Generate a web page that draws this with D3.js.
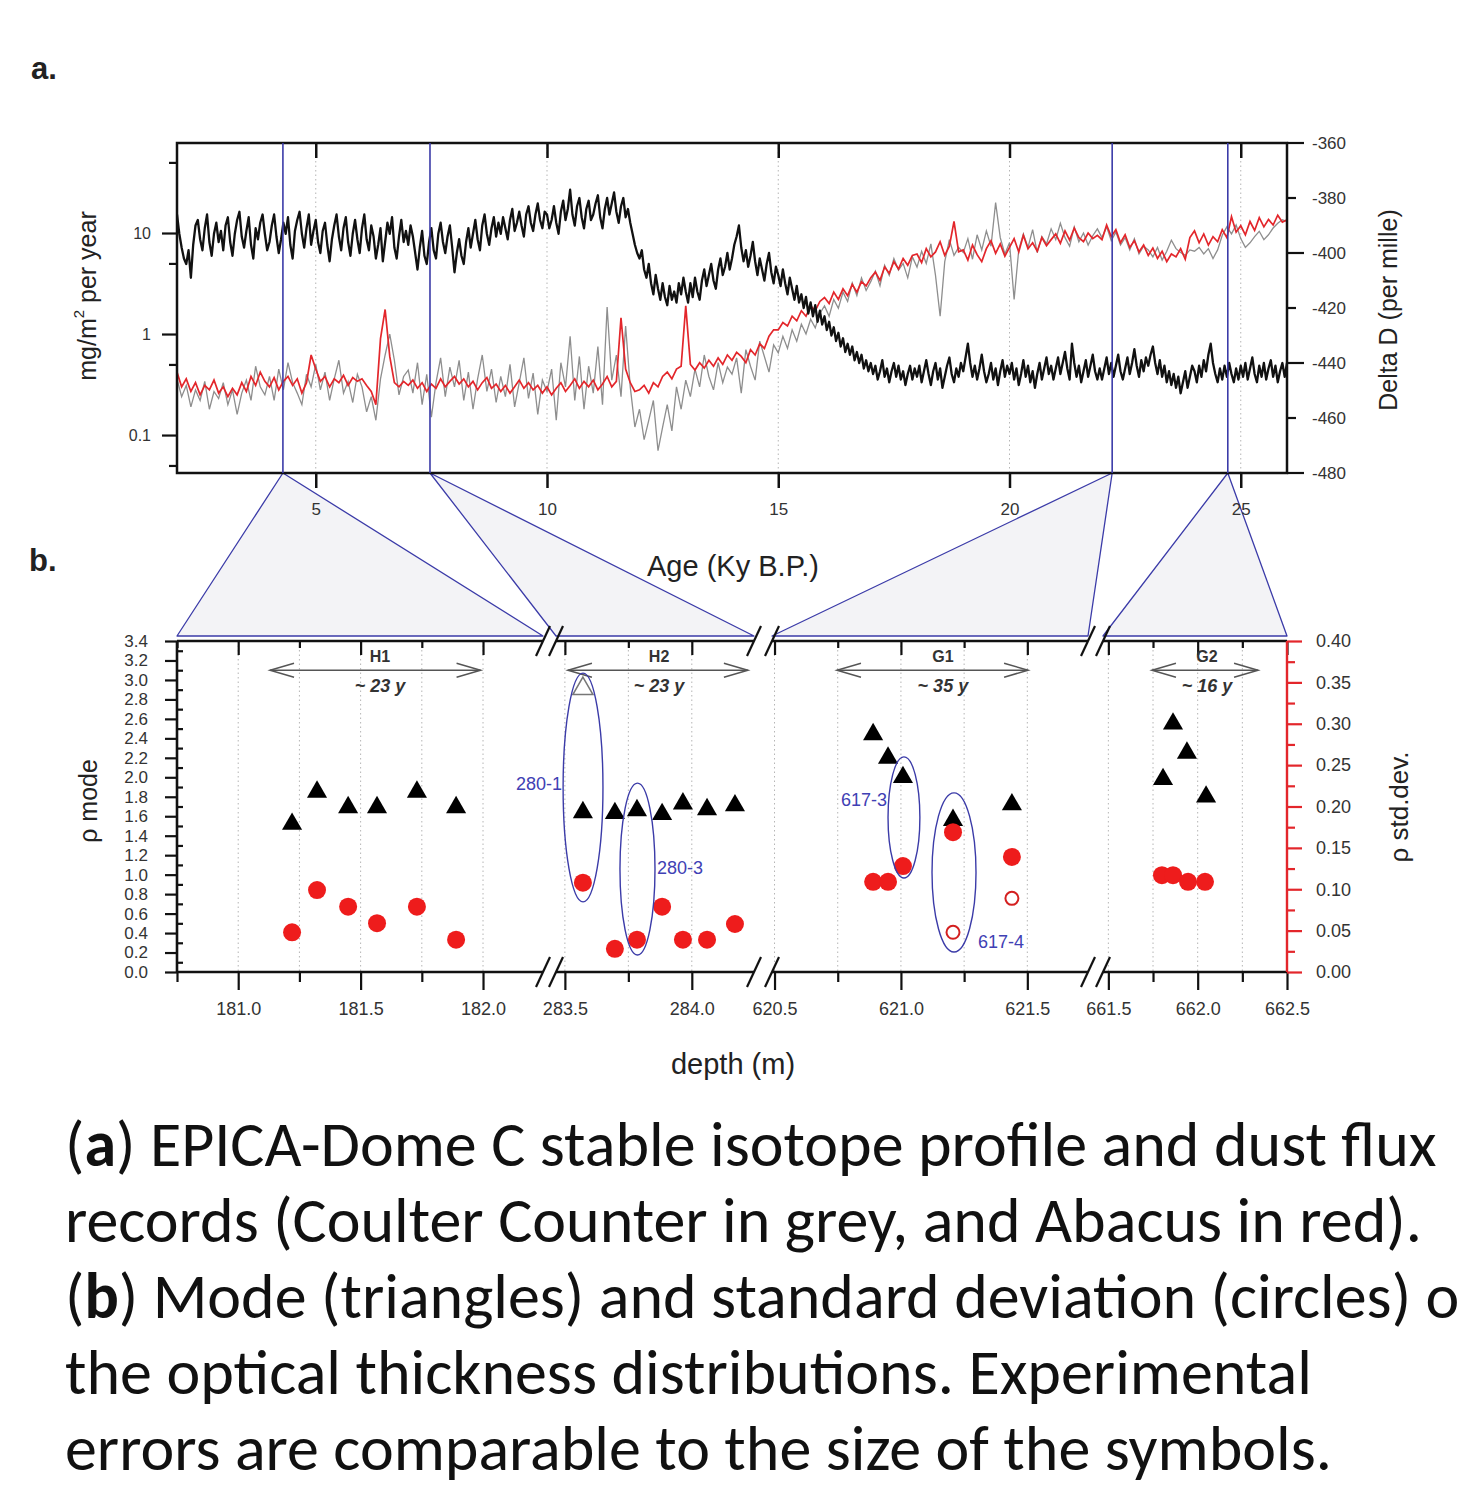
<!DOCTYPE html>
<html>
<head>
<meta charset="utf-8">
<title>EPICA Dome C dust and optical thickness</title>
<script src="https://d3js.org/d3.v7.min.js"></script>
<style>
  body { margin: 0; background: #fff; }
  svg text { font-family: "Liberation Sans", Arial, sans-serif; }
  .tick text { fill: #333; }
  .caption { font-family: Carlito, Lato, "Open Sans", sans-serif; fill: #111; }
</style>
</head>
<body>
<svg id="fig" width="1457" height="1485"></svg>
<script>
// ---------- panel a data
// Delta D (per mille), black curve, right axis: read every 0.05 ky from 2.0 to 26.0 ky B.P.
const deltaStart = 2.0, deltaStep = 0.05;
const deltaD = [
  -386,-393,-398,-402,-404,-399,-409,-397,-390,-388,-395,-399,-391,-386,-396,-401,-393,-389,-396,-392,
  -399,-390,-387,-396,-401,-393,-388,-385,-394,-398,-392,-387,-397,-402,-391,-395,-389,-386,-393,-399,
  -396,-390,-386,-394,-400,-395,-389,-393,-387,-397,-402,-392,-388,-385,-393,-398,-391,-386,-397,-392,
  -388,-396,-400,-392,-389,-397,-403,-395,-390,-386,-394,-399,-391,-387,-396,-401,-393,-388,-395,-400,
  -391,-386,-395,-399,-390,-394,-402,-397,-391,-403,-396,-389,-393,-387,-398,-402,-394,-388,-396,-392,
  -397,-390,-394,-400,-406,-398,-392,-401,-404,-396,-391,-399,-402,-393,-389,-396,-400,-394,-390,-398,
  -407,-400,-395,-401,-404,-396,-391,-398,-393,-388,-395,-399,-390,-386,-393,-397,-391,-387,-394,-389,
  -393,-387,-391,-395,-388,-384,-392,-389,-385,-390,-394,-386,-383,-389,-392,-386,-382,-388,-391,-385,
  -386,-391,-388,-383,-389,-393,-385,-381,-388,-384,-377,-386,-390,-383,-380,-387,-391,-384,-381,-388,
  -386,-382,-379,-387,-391,-384,-380,-386,-382,-378,-385,-389,-383,-380,-387,-384,-389,-393,-397,-400,
  -402,-399,-406,-409,-404,-411,-415,-408,-413,-417,-411,-416,-419,-412,-417,-414,-418,-411,-415,-409,
  -414,-418,-411,-416,-409,-414,-417,-410,-406,-412,-408,-404,-410,-413,-406,-402,-408,-405,-400,-406,
  -402,-397,-394,-390,-398,-403,-399,-405,-401,-396,-403,-408,-402,-406,-410,-404,-400,-407,-411,-405,
  -408,-412,-406,-411,-415,-409,-413,-417,-412,-418,-415,-420,-416,-422,-418,-423,-419,-425,-421,-426,
  -423,-428,-425,-430,-427,-432,-429,-434,-431,-436,-433,-437,-434,-439,-436,-440,-437,-442,-439,-443,
  -440,-444,-441,-446,-443,-439,-445,-442,-447,-443,-440,-445,-441,-446,-443,-448,-444,-441,-446,-442,
  -445,-441,-447,-443,-439,-444,-448,-443,-440,-446,-442,-449,-445,-441,-438,-444,-447,-442,-445,-440,
  -443,-438,-433,-440,-445,-441,-446,-442,-437,-443,-447,-444,-440,-446,-442,-448,-443,-439,-445,-441,
  -444,-440,-446,-442,-448,-444,-439,-445,-441,-447,-443,-449,-444,-440,-446,-442,-438,-444,-441,-446,
  -442,-438,-444,-440,-436,-442,-446,-433,-440,-445,-441,-447,-443,-439,-445,-441,-437,-443,-446,-442,
  -446,-442,-438,-444,-440,-445,-441,-437,-443,-446,-442,-438,-444,-440,-435,-441,-445,-439,-443,-438,
  -441,-437,-434,-440,-444,-439,-445,-441,-447,-443,-448,-444,-449,-445,-451,-447,-443,-449,-445,-441,
  -443,-447,-441,-445,-439,-443,-437,-433,-440,-444,-447,-442,-446,-441,-445,-440,-444,-447,-442,-446,
  -441,-445,-440,-446,-442,-438,-444,-447,-441,-445,-440,-446,-442,-439,-445,-441,-447,-443,-440,-445,
  -440
];

// dust flux (mg/m2 per year): read every 0.1 ky from 2.0 to 26.0 ky B.P.
const fluxStart = 2.0, fluxStep = 0.1;
// Abacus (red)
const abacusFlux = [
  0.42, 0.30, 0.36, 0.27, 0.33, 0.25, 0.31, 0.28, 0.35, 0.26,
  0.30, 0.24, 0.29, 0.25, 0.33, 0.27, 0.38, 0.31, 0.42, 0.34,
  0.30, 0.37, 0.28, 0.34, 0.38, 0.31, 0.36, 0.26, 0.33, 0.62,
  0.45, 0.34, 0.38, 0.30, 0.36, 0.33, 0.39, 0.31, 0.37, 0.34,
  0.36, 0.31, 0.27, 0.20, 0.90, 1.75, 0.60, 0.33, 0.30, 0.34,
  0.31, 0.35, 0.29, 0.33, 0.27, 0.32, 0.29, 0.36, 0.30, 0.34,
  0.38, 0.32, 0.36, 0.30, 0.34, 0.28, 0.33, 0.37, 0.29, 0.32,
  0.27, 0.31, 0.26, 0.30, 0.35, 0.29, 0.33, 0.28, 0.31, 0.26,
  0.30, 0.25, 0.29, 0.33, 0.27, 0.31, 0.36, 0.29, 0.34, 0.30,
  0.35, 0.28, 0.32, 0.38, 0.30, 0.34, 1.45, 0.45, 0.33, 0.27,
  0.28, 0.31, 0.26, 0.33, 0.30, 0.38, 0.42, 0.36, 0.45, 0.48,
  1.90, 0.50, 0.44, 0.52, 0.46, 0.55, 0.48, 0.58, 0.50, 0.62,
  0.55, 0.66, 0.60, 0.52, 0.70, 0.62, 0.80, 0.72, 0.95, 1.10,
  1.10, 1.30, 1.20, 1.50, 1.35, 1.70, 1.50, 1.90, 1.70, 2.10,
  2.3, 2.0, 2.6, 2.2, 2.8, 2.4, 3.1, 2.6, 3.3, 3.0,
  3.6, 4.1, 3.4, 4.6, 4.0, 5.2, 4.4, 5.6, 4.8, 6.0,
  6.2, 5.1, 7.0, 5.8, 6.5, 8.2, 6.0, 7.4, 13.0, 6.5,
  6.8, 5.4, 7.6, 6.1, 5.2, 7.0, 8.4, 6.3, 7.8, 5.9,
  7.2, 8.8, 6.5, 9.5, 7.0, 8.0, 6.6, 9.0, 7.5, 8.6,
  9.8, 7.9, 10.5, 8.5, 11.2, 9.0, 8.2, 10.0, 8.8, 9.5,
  8.6, 12.0, 9.2, 10.8, 8.0, 9.6, 7.2, 8.4, 6.5, 7.6,
  6.0, 7.1, 5.6, 6.6, 5.2, 6.2, 5.8, 7.0, 5.5, 9.0,
  10.5, 8.0, 9.8, 7.6, 9.2, 8.2, 10.8, 9.0, 14.5, 10.2,
  11.8, 9.6, 13.0, 10.6, 14.2, 11.5, 13.6, 12.0, 15.0, 12.8,
  13.5
];
// Coulter Counter (grey)
const coulterFlux = [
  0.36, 0.24, 0.31, 0.19, 0.28, 0.22, 0.34, 0.18, 0.27, 0.23,
  0.33, 0.20, 0.28, 0.16, 0.26, 0.35, 0.22, 0.48, 0.30, 0.25,
  0.38, 0.22, 0.45, 0.28, 0.52, 0.33, 0.26, 0.20, 0.40, 0.30,
  0.50, 0.28, 0.42, 0.22, 0.36, 0.55, 0.26, 0.34, 0.21, 0.40,
  0.30, 0.17, 0.24, 0.14, 0.36, 0.62, 1.00, 0.55, 0.25, 0.38,
  0.44, 0.26, 0.52, 0.20, 0.40, 0.15, 0.33, 0.58, 0.24, 0.47,
  0.30, 0.55, 0.22, 0.42, 0.18, 0.36, 0.62, 0.27, 0.45, 0.21,
  0.38, 0.24, 0.50, 0.19, 0.33, 0.58, 0.23, 0.41, 0.16, 0.35,
  0.27, 0.45, 0.14, 0.52, 0.30, 0.95, 0.22, 0.60, 0.18, 0.48,
  0.26, 0.75, 0.20, 1.85, 0.35, 0.62, 0.24, 1.20, 0.30, 0.12,
  0.18, 0.09, 0.14, 0.22, 0.07, 0.12, 0.20, 0.11, 0.30, 0.18,
  0.35, 0.24, 0.45, 0.30, 0.62, 0.38, 0.28, 0.52, 0.33, 0.47,
  0.40, 0.58, 0.26, 0.70, 0.48, 0.35, 0.85, 0.60, 0.42, 0.78,
  0.65, 0.95, 0.72, 1.10, 0.85, 1.25, 1.00, 1.40, 1.15, 1.60,
  1.9, 1.5, 2.2, 1.8, 2.6, 2.1, 3.2, 2.4, 3.6, 2.7,
  3.3, 4.2, 3.0, 4.8, 3.8, 5.6, 4.3, 5.0, 3.6, 5.8,
  4.6, 6.6, 5.0, 7.8, 3.8, 1.5, 5.2, 8.6, 6.0, 7.2,
  6.4, 8.8, 5.5, 9.6, 6.8, 10.5, 7.4, 20.0, 9.0, 6.2,
  8.0, 2.2, 6.8, 9.8, 7.2, 10.8, 6.4, 9.2, 7.8, 11.0,
  8.6, 12.5, 9.0, 7.4, 11.5, 8.2, 10.0, 7.6, 9.4, 11.0,
  9.0, 11.5, 8.4, 10.2, 7.6, 9.0, 6.8, 8.8, 6.2, 7.4,
  6.8, 5.8, 7.2, 5.4, 6.6, 8.5, 7.0, 6.4, 6.0, 6.8,
  6.6, 7.2, 6.2, 7.0, 5.6, 6.8, 9.5, 11.5, 9.8, 12.0,
  8.8, 7.2, 8.0, 9.2, 10.4, 8.6, 9.6, 11.2, 12.5, 13.5,
  13.0
];

const zoomAges = [4.29, 7.47, 22.22, 24.72];   // blue markers, one per depth section
const ageTicks = [5, 10, 15, 20, 25];
const fluxTicks = [0.1, 1, 10];
const fluxMinorTicks = [0.05, 0.5, 5, 50];
const deltaTicks = [-360, -380, -400, -420, -440, -460, -480];
const deltaMajor = [-360, -400, -440, -480];

// ---------- panel b data (depth in m)
const segDomains = [[180.75, 182.245], [283.465, 284.245], [620.49, 621.74], [661.47, 662.5]];

const modeSeg   = [0, 0, 0, 0, 0, 0, 1, 1, 1, 1, 1, 1, 1, 2, 2, 2, 2, 2, 3, 3, 3, 3];
const modeDepth = [181.220, 181.322, 181.449, 181.567, 181.730, 181.890,
                   283.571, 283.697, 283.784, 283.883, 283.965, 284.060, 284.170,
                   620.890, 620.949, 621.008, 621.206, 621.439,
                   661.806, 661.862, 661.940, 662.047];
const modeValue = [1.52, 1.85, 1.69, 1.69, 1.85, 1.69,
                   1.64, 1.63, 1.66, 1.62, 1.73, 1.67, 1.71,
                   2.44, 2.20, 2.00, 1.56, 1.72,
                   1.98, 2.55, 2.25, 1.80];

const stdSeg   = [0, 0, 0, 0, 0, 0, 1, 1, 1, 1, 1, 1, 1, 2, 2, 2, 2, 2, 3, 3, 3, 3];
const stdDepth = [181.220, 181.322, 181.449, 181.567, 181.730, 181.890,
                  283.571, 283.697, 283.784, 283.883, 283.965, 284.060, 284.170,
                  620.890, 620.949, 621.008, 621.206, 621.439,
                  661.800, 661.862, 661.946, 662.041];
const stdValue = [0.048, 0.099, 0.079, 0.059, 0.079, 0.039,
                  0.108, 0.028, 0.039, 0.079, 0.039, 0.039, 0.058,
                  0.109, 0.109, 0.128, 0.169, 0.139,
                  0.117, 0.117, 0.109, 0.109];

// open symbols
const openModeSeg = [1], openModeDepth = [283.571], openModeValue = [2.91];
const openStdSeg = [2, 2], openStdDepth = [621.206, 621.439], openStdValue = [0.048, 0.089];

// sections: names, duration, arrow extent (depth) and label depth
const groupNames = ["H1", "H2", "G1", "G2"];
const groupYears = ["~ 23 y", "~ 23 y", "~ 35 y", "~ 16 y"];
const groupSpan  = [[181.13, 181.99], [283.512, 284.221], [620.747, 621.503], [661.744, 662.338]];
const groupMid   = [181.579, 283.871, 621.166, 662.052];

// samples circled in blue (depth and mode extents)
const sampleNames = ["280-1", "280-3", "617-3", "617-4"];
const sampleSeg   = [1, 1, 2, 2];
const sampleDepth = [[283.493, 283.650], [283.717, 283.855], [620.949, 621.075], [621.123, 621.297]];
const sampleMode  = [[0.72, 3.07], [0.175, 1.94], [0.966, 2.21], [0.205, 1.84]];
const sampleLabelMode = [1.93, 1.07, 1.77, 0.31];
const sampleLabelSide = ["left", "right", "left", "right"];

// ---------- layout
const svg = d3.select("#fig");
const A = { l: 177, r: 1287, t: 143, b: 473 };
const B = { l: 177, r: 1287, t: 641, b: 972 };
const segRanges = [[177, 543], [556, 754], [772, 1088], [1103, 1287]];
const baseY = 636;   // bottom of the zoom wedges
const blue = "#3b3ba8";
const textCol = "#222";

const wedgeLayer = svg.append("g");

// ================= panel a =================
const x = d3.scaleLinear().domain([2, 26]).range([A.l, A.r]);
const yFlux = d3.scaleLog().domain([0.0421, 77.8]).range([A.b, A.t]);
const yDD = d3.scaleLinear().domain([-480, -360]).range([A.b, A.t]);

svg.append("defs").append("clipPath").attr("id", "clipA")
  .append("rect").attr("x", A.l).attr("y", A.t).attr("width", A.r - A.l).attr("height", A.b - A.t);

// dotted grid
svg.append("g").selectAll("line").data(ageTicks).join("line")
  .attr("x1", d => x(d)).attr("x2", d => x(d)).attr("y1", A.t).attr("y2", A.b)
  .attr("stroke", "#b5b5b5").attr("stroke-width", 1).attr("stroke-dasharray", "1.5,3");

const plotA = svg.append("g").attr("clip-path", "url(#clipA)");
plotA.append("path").datum(coulterFlux)
  .attr("fill", "none").attr("stroke", "#8e8e8e").attr("stroke-width", 1.3)
  .attr("d", d3.line().x((d, i) => x(fluxStart + i * fluxStep)).y(d => yFlux(d)));
plotA.append("path").datum(abacusFlux)
  .attr("fill", "none").attr("stroke", "#e3262b").attr("stroke-width", 1.7)
  .attr("d", d3.line().x((d, i) => x(fluxStart + i * fluxStep)).y(d => yFlux(d)));
plotA.append("path").datum(deltaD)
  .attr("fill", "none").attr("stroke", "#111").attr("stroke-width", 2.3)
  .attr("stroke-linejoin", "round")
  .attr("d", d3.line().x((d, i) => x(deltaStart + i * deltaStep)).y(d => yDD(d)));

// frame
svg.append("rect").attr("x", A.l).attr("y", A.t).attr("width", A.r - A.l).attr("height", A.b - A.t)
  .attr("fill", "none").attr("stroke", "#111").attr("stroke-width", 2.5);

// axes panel a
function styleAxis(g, color, width) {
  g.select(".domain").remove();
  g.selectAll(".tick line").attr("stroke", color).attr("stroke-width", width);
}
svg.append("g").attr("transform", `translate(0,${A.b})`)
  .call(d3.axisBottom(x).tickValues(ageTicks).tickSize(15).tickPadding(15))
  .call(g => styleAxis(g, "#111", 2.5))
  .call(g => g.selectAll("text").attr("font-size", 17));
svg.append("g").attr("transform", `translate(0,${A.t})`)
  .call(d3.axisTop(x).tickValues(ageTicks).tickSize(-15).tickFormat(""))
  .call(g => styleAxis(g, "#111", 2.5));
svg.append("g").attr("transform", `translate(${A.l},0)`)
  .call(d3.axisLeft(yFlux).tickValues(fluxTicks).tickSize(15).tickPadding(11).tickFormat(d => String(d)))
  .call(g => styleAxis(g, "#111", 2.2))
  .call(g => g.selectAll("text").attr("font-size", 16));
svg.append("g").attr("transform", `translate(${A.l},0)`)
  .call(d3.axisLeft(yFlux).tickValues(fluxMinorTicks).tickSize(8).tickFormat(""))
  .call(g => styleAxis(g, "#111", 2.2));
svg.append("g").attr("transform", `translate(${A.r},0)`)
  .call(d3.axisRight(yDD).tickValues(deltaTicks).tickSize(0).tickPadding(25).tickFormat(d => String(d)))
  .call(g => styleAxis(g, "#111", 2.2))
  .call(g => g.selectAll("text").attr("font-size", 17));
svg.append("g").selectAll("line").data(deltaTicks).join("line")
  .attr("x1", A.r).attr("x2", d => A.r + (deltaMajor.includes(d) ? 17 : 9))
  .attr("y1", d => yDD(d)).attr("y2", d => yDD(d))
  .attr("stroke", "#111").attr("stroke-width", 2.2);

// axis titles panel a
const fluxTitle = svg.append("text").attr("transform", "translate(96,296) rotate(-90)")
  .attr("text-anchor", "middle").attr("font-size", 25).attr("fill", textCol);
fluxTitle.append("tspan").text("mg/m");
fluxTitle.append("tspan").attr("dy", -12).attr("font-size", 15).text("2");
fluxTitle.append("tspan").attr("dy", 12).text(" per year");
svg.append("text").attr("transform", "translate(1397,310) rotate(-90)")
  .attr("text-anchor", "middle").attr("font-size", 25).attr("fill", textCol)
  .text("Delta D (per mille)");
svg.append("text").attr("x", 733).attr("y", 576).attr("text-anchor", "middle")
  .attr("font-size", 29).attr("fill", textCol).text("Age (Ky B.P.)");

// ================= zoom wedges (drawn underneath) =================
const xs = segDomains.map((dom, i) => d3.scaleLinear().domain(dom).range(segRanges[i]));
wedgeLayer.selectAll("polygon").data(zoomAges).join("polygon")
  .attr("points", (d, i) => [[x(d), A.b], [segRanges[i][0], baseY], [segRanges[i][1], baseY]].join(" "))
  .attr("fill", "#f3f3f6").attr("stroke", blue).attr("stroke-width", 1.3).attr("stroke-linejoin", "round");
svg.append("g").selectAll("line").data(zoomAges).join("line")
  .attr("x1", d => x(d)).attr("x2", d => x(d)).attr("y1", A.t).attr("y2", A.b)
  .attr("stroke", blue).attr("stroke-width", 1.6);

// ================= panel b =================
const yMode = d3.scaleLinear().domain([0, 3.4]).range([B.b, B.t]);
const yStd = d3.scaleLinear().domain([0, 0.4]).range([B.b, B.t]);

xs.forEach((xsc, i) => {
  const [d0, d1] = xsc.domain();
  const ticks = d3.range(Math.ceil(d0 * 4 - 1e-6) / 4, d1 + 1e-6, 0.25);
  const major = ticks.filter(t => Math.abs(t * 2 - Math.round(t * 2)) < 1e-6);
  const minor = ticks.filter(t => !major.includes(t));
  // dotted grid
  svg.append("g").selectAll("line").data(ticks).join("line")
    .attr("x1", d => xsc(d)).attr("x2", d => xsc(d)).attr("y1", B.t).attr("y2", B.b)
    .attr("stroke", "#b5b5b5").attr("stroke-width", 1).attr("stroke-dasharray", "1.5,3");
  // bottom axis
  svg.append("g").attr("transform", `translate(0,${B.b})`)
    .call(d3.axisBottom(xsc).tickValues(major).tickSize(18).tickPadding(12).tickFormat(d3.format(".1f")))
    .call(g => styleAxis(g, "#111", 2.2))
    .call(g => g.selectAll("text").attr("font-size", 18));
  svg.append("g").attr("transform", `translate(0,${B.b})`)
    .call(d3.axisBottom(xsc).tickValues(minor).tickSize(10).tickFormat(""))
    .call(g => styleAxis(g, "#111", 2.2));
  // top axis (inner ticks)
  svg.append("g").attr("transform", `translate(0,${B.t})`)
    .call(d3.axisTop(xsc).tickValues(major).tickSize(-14).tickFormat(""))
    .call(g => styleAxis(g, "#111", 2.2));
  svg.append("g").attr("transform", `translate(0,${B.t})`)
    .call(d3.axisTop(xsc).tickValues(minor).tickSize(-7).tickFormat(""))
    .call(g => styleAxis(g, "#111", 2.2));
  // axis lines of the section
  [B.t, B.b].forEach(yy => {
    svg.append("line").attr("x1", segRanges[i][0]).attr("x2", segRanges[i][1])
      .attr("y1", yy).attr("y2", yy).attr("stroke", "#111").attr("stroke-width", 2.6);
  });
});

// break marks
const breakXs = [];
for (let i = 0; i < segRanges.length - 1; i++) breakXs.push(segRanges[i][1], segRanges[i + 1][0]);
[B.t, B.b].forEach(yy => {
  svg.append("g").selectAll("line").data(breakXs).join("line")
    .attr("x1", d => d - 7).attr("y1", yy + 15).attr("x2", d => d + 7).attr("y2", yy - 15)
    .attr("stroke", "#111").attr("stroke-width", 2.2);
});

// left axis (rho mode)
svg.append("line").attr("x1", B.l).attr("x2", B.l).attr("y1", B.t).attr("y2", B.b)
  .attr("stroke", "#111").attr("stroke-width", 2.6);
svg.append("g").attr("transform", `translate(${B.l},0)`)
  .call(d3.axisLeft(yMode).tickValues(d3.range(0, 3.41, 0.2)).tickSize(12).tickPadding(17).tickFormat(d3.format(".1f")))
  .call(g => styleAxis(g, "#111", 2.2))
  .call(g => g.selectAll("text").attr("font-size", 17));
svg.append("g").attr("transform", `translate(${B.l},0)`)
  .call(d3.axisLeft(yMode).tickValues(d3.range(0.1, 3.4, 0.2)).tickSize(-6).tickFormat(""))
  .call(g => styleAxis(g, "#111", 2.2));

// right axis (rho std.dev.) in red
svg.append("line").attr("x1", B.r).attr("x2", B.r).attr("y1", B.t).attr("y2", B.b)
  .attr("stroke", "#e3262b").attr("stroke-width", 2.4);
svg.append("g").attr("transform", `translate(${B.r},0)`)
  .call(d3.axisRight(yStd).tickValues(d3.range(0, 0.401, 0.05)).tickSize(15).tickPadding(14).tickFormat(d3.format(".2f")))
  .call(g => styleAxis(g, "#e3262b", 2.2))
  .call(g => g.selectAll("text").attr("font-size", 18));
svg.append("g").attr("transform", `translate(${B.r},0)`)
  .call(d3.axisRight(yStd).tickValues(d3.range(0.025, 0.4, 0.05)).tickSize(8).tickFormat(""))
  .call(g => styleAxis(g, "#e3262b", 2.2));

// section annotations
groupNames.forEach((name, i) => {
  const xsc = xs[i];
  const xa = xsc(groupSpan[i][0]), xb = xsc(groupSpan[i][1]), ya = yMode(3.1);
  const g = svg.append("g").attr("stroke", "#555").attr("stroke-width", 1.5).attr("fill", "none");
  g.append("line").attr("x1", xa).attr("x2", xb).attr("y1", ya).attr("y2", ya);
  g.append("path").attr("d", `M${xa + 24},${ya - 7}L${xa},${ya}L${xa + 24},${ya + 7}`);
  g.append("path").attr("d", `M${xb - 24},${ya - 7}L${xb},${ya}L${xb - 24},${ya + 7}`);
  svg.append("text").attr("x", xsc(groupMid[i])).attr("y", yMode(3.1) - 8)
    .attr("text-anchor", "middle").attr("font-size", 16).attr("font-weight", "bold")
    .attr("fill", "#333").text(name);
  svg.append("text").attr("x", xsc(groupMid[i])).attr("y", yMode(3.1) + 22)
    .attr("text-anchor", "middle").attr("font-size", 18).attr("font-weight", "bold")
    .attr("font-style", "italic").attr("fill", "#333").text(groupYears[i]);
});

// markers
const tri = d3.symbol().type(d3.symbolTriangle).size(175);
svg.append("g").selectAll("path").data(modeValue).join("path")
  .attr("d", tri)
  .attr("transform", (d, i) => `translate(${xs[modeSeg[i]](modeDepth[i])},${yMode(d)})`)
  .attr("fill", "#000");
svg.append("g").selectAll("path").data(openModeValue).join("path")
  .attr("d", tri)
  .attr("transform", (d, i) => `translate(${xs[openModeSeg[i]](openModeDepth[i])},${yMode(d)})`)
  .attr("fill", "#fff").attr("stroke", "#777").attr("stroke-width", 1.5);
svg.append("g").selectAll("circle").data(stdValue).join("circle")
  .attr("cx", (d, i) => xs[stdSeg[i]](stdDepth[i])).attr("cy", d => yStd(d)).attr("r", 9)
  .attr("fill", "#ee1c1c");
svg.append("g").selectAll("circle").data(openStdValue).join("circle")
  .attr("cx", (d, i) => xs[openStdSeg[i]](openStdDepth[i])).attr("cy", d => yStd(d)).attr("r", 6.5)
  .attr("fill", "#fff").attr("stroke", "#d42020").attr("stroke-width", 2);

// circled samples
sampleNames.forEach((name, i) => {
  const xsc = xs[sampleSeg[i]];
  const x0 = xsc(sampleDepth[i][0]), x1 = xsc(sampleDepth[i][1]);
  const y0 = yMode(sampleMode[i][1]), y1 = yMode(sampleMode[i][0]);
  svg.append("ellipse").attr("cx", (x0 + x1) / 2).attr("cy", (y0 + y1) / 2)
    .attr("rx", (x1 - x0) / 2).attr("ry", (y1 - y0) / 2)
    .attr("fill", "none").attr("stroke", blue).attr("stroke-width", 1.4);
  const left = sampleLabelSide[i] === "left";
  svg.append("text").attr("x", left ? x0 - 1 : x1 + 2).attr("y", yMode(sampleLabelMode[i]))
    .attr("dy", "0.35em").attr("text-anchor", left ? "end" : "start")
    .attr("font-size", 18).attr("fill", "#4040b4").text(name);
});

// axis titles panel b
svg.append("text").attr("transform", "translate(97,801) rotate(-90)")
  .attr("text-anchor", "middle").attr("font-size", 25).attr("fill", textCol).text("ρ mode");
svg.append("text").attr("transform", "translate(1408,807) rotate(-90)")
  .attr("text-anchor", "middle").attr("font-size", 26).attr("fill", textCol).text("ρ std.dev.");
svg.append("text").attr("x", 733).attr("y", 1074).attr("text-anchor", "middle")
  .attr("font-size", 29).attr("fill", textCol).text("depth (m)");

// panel letters
svg.append("text").attr("x", 31).attr("y", 79).attr("font-size", 31).attr("font-weight", "bold")
  .attr("fill", textCol).text("a.");
svg.append("text").attr("x", 29).attr("y", 571).attr("font-size", 31).attr("font-weight", "bold")
  .attr("fill", textCol).text("b.");

// ================= caption =================
const captionLines = [
  [["(", false], ["a", true], [") EPICA-Dome C stable isotope profile and dust flux", false]],
  [["records (Coulter Counter in grey, and Abacus in red).", false]],
  [["(", false], ["b", true], [") Mode (triangles) and standard deviation (circles) of", false]],
  [["the optical thickness distributions. Experimental", false]],
  [["errors are comparable to the size of the symbols.", false]]
];
captionLines.forEach((parts, i) => {
  const t = svg.append("text").attr("class", "caption")
    .attr("x", 65).attr("y", 1166 + i * 76).attr("font-size", 64);
  parts.forEach(([s, b]) => t.append("tspan").attr("font-weight", b ? "bold" : "normal").text(s));
});
</script>
</body>
</html>
